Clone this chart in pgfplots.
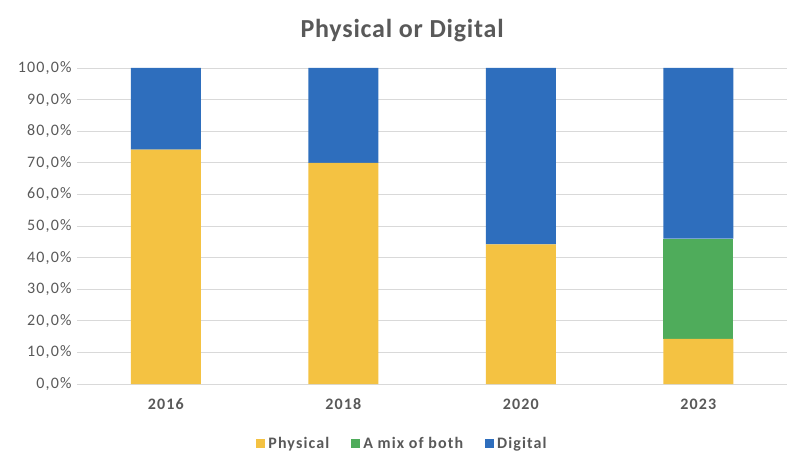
\documentclass[border=0pt]{standalone}
\usepackage{pgfplots}
\pgfplotsset{compat=1.18}
\usepackage{fontspec}
\setmainfont{Carlito}
\newfontfamily\spfont[LetterSpace=7]{Carlito}
\newfontfamily\tifont[LetterSpace=3]{Carlito}
\definecolor{cyel}{HTML}{F4C242}
\definecolor{cgrn}{HTML}{4FAC5B}
\definecolor{cblu}{HTML}{2E6EBD}
\definecolor{ctxt}{HTML}{595959}
\definecolor{cgrid}{HTML}{D9D9D9}
\begin{document}
\begin{tikzpicture}[x=1pt,y=1pt]
\begin{axis}[
  scale only axis, width=710pt, height=316pt,
  ybar stacked, bar width=70pt,
  xmin=-0.5, xmax=3.5, ymin=0, ymax=100,
  xtick=data, xticklabels={2016,2018,2020,2023},
  xticklabel style={font=\spfont\fontsize{16}{18}\selectfont\bfseries, text=ctxt, yshift=-11pt},
  ytick={0,10,...,100},
  yticklabel={\pgfmathprintnumber[fixed,fixed zerofill,precision=1,use comma]{\tick}\%},
  yticklabel style={font=\spfont\fontsize{16}{18}\selectfont, text=ctxt, xshift=-2pt},
  /pgf/number format/assume math mode=true,
  ymajorgrids, grid style={cgrid, line width=0.8pt},
  axis line style={draw=none}, major tick length=0pt,
  axis x line*=bottom, axis y line*=left,
  xtick style={draw=none}, ytick style={draw=none},
  legend style={draw=none, at={(0.4585,-0.188)}, anchor=center, legend columns=-1,
    font=\spfont\fontsize{16}{18}\selectfont\bfseries, text=ctxt,
    /tikz/every even column/.append style={column sep=20pt},
    /tikz/every odd column/.append style={column sep=1pt}},
  legend image code/.code={\fill[#1] (0pt,-4.5pt) rectangle (9pt,4.5pt);},
  title={\textbf{Physical or Digital}},
  title style={font=\tifont\fontsize{26}{28}\selectfont, text=ctxt, at={(0.4585,1.0)}, anchor=south, yshift=17pt},
  clip=false,
]
\addplot[fill=cyel, draw=none] coordinates {(0,74.2) (1,70.0) (2,44.2) (3,14.3)};
\addplot[fill=cgrn, draw=none] coordinates {(0,0) (1,0) (2,0) (3,31.7)};
\addplot[fill=cblu, draw=none] coordinates {(0,25.8) (1,30.0) (2,55.8) (3,54.0)};
\legend{Physical, A mix of both, Digital}
\end{axis}
\path[use as bounding box] ([xshift=-77pt,yshift=-89pt]current axis.south west) rectangle ([xshift=20pt,yshift=68pt]current axis.north east);
\end{tikzpicture}
\end{document}
